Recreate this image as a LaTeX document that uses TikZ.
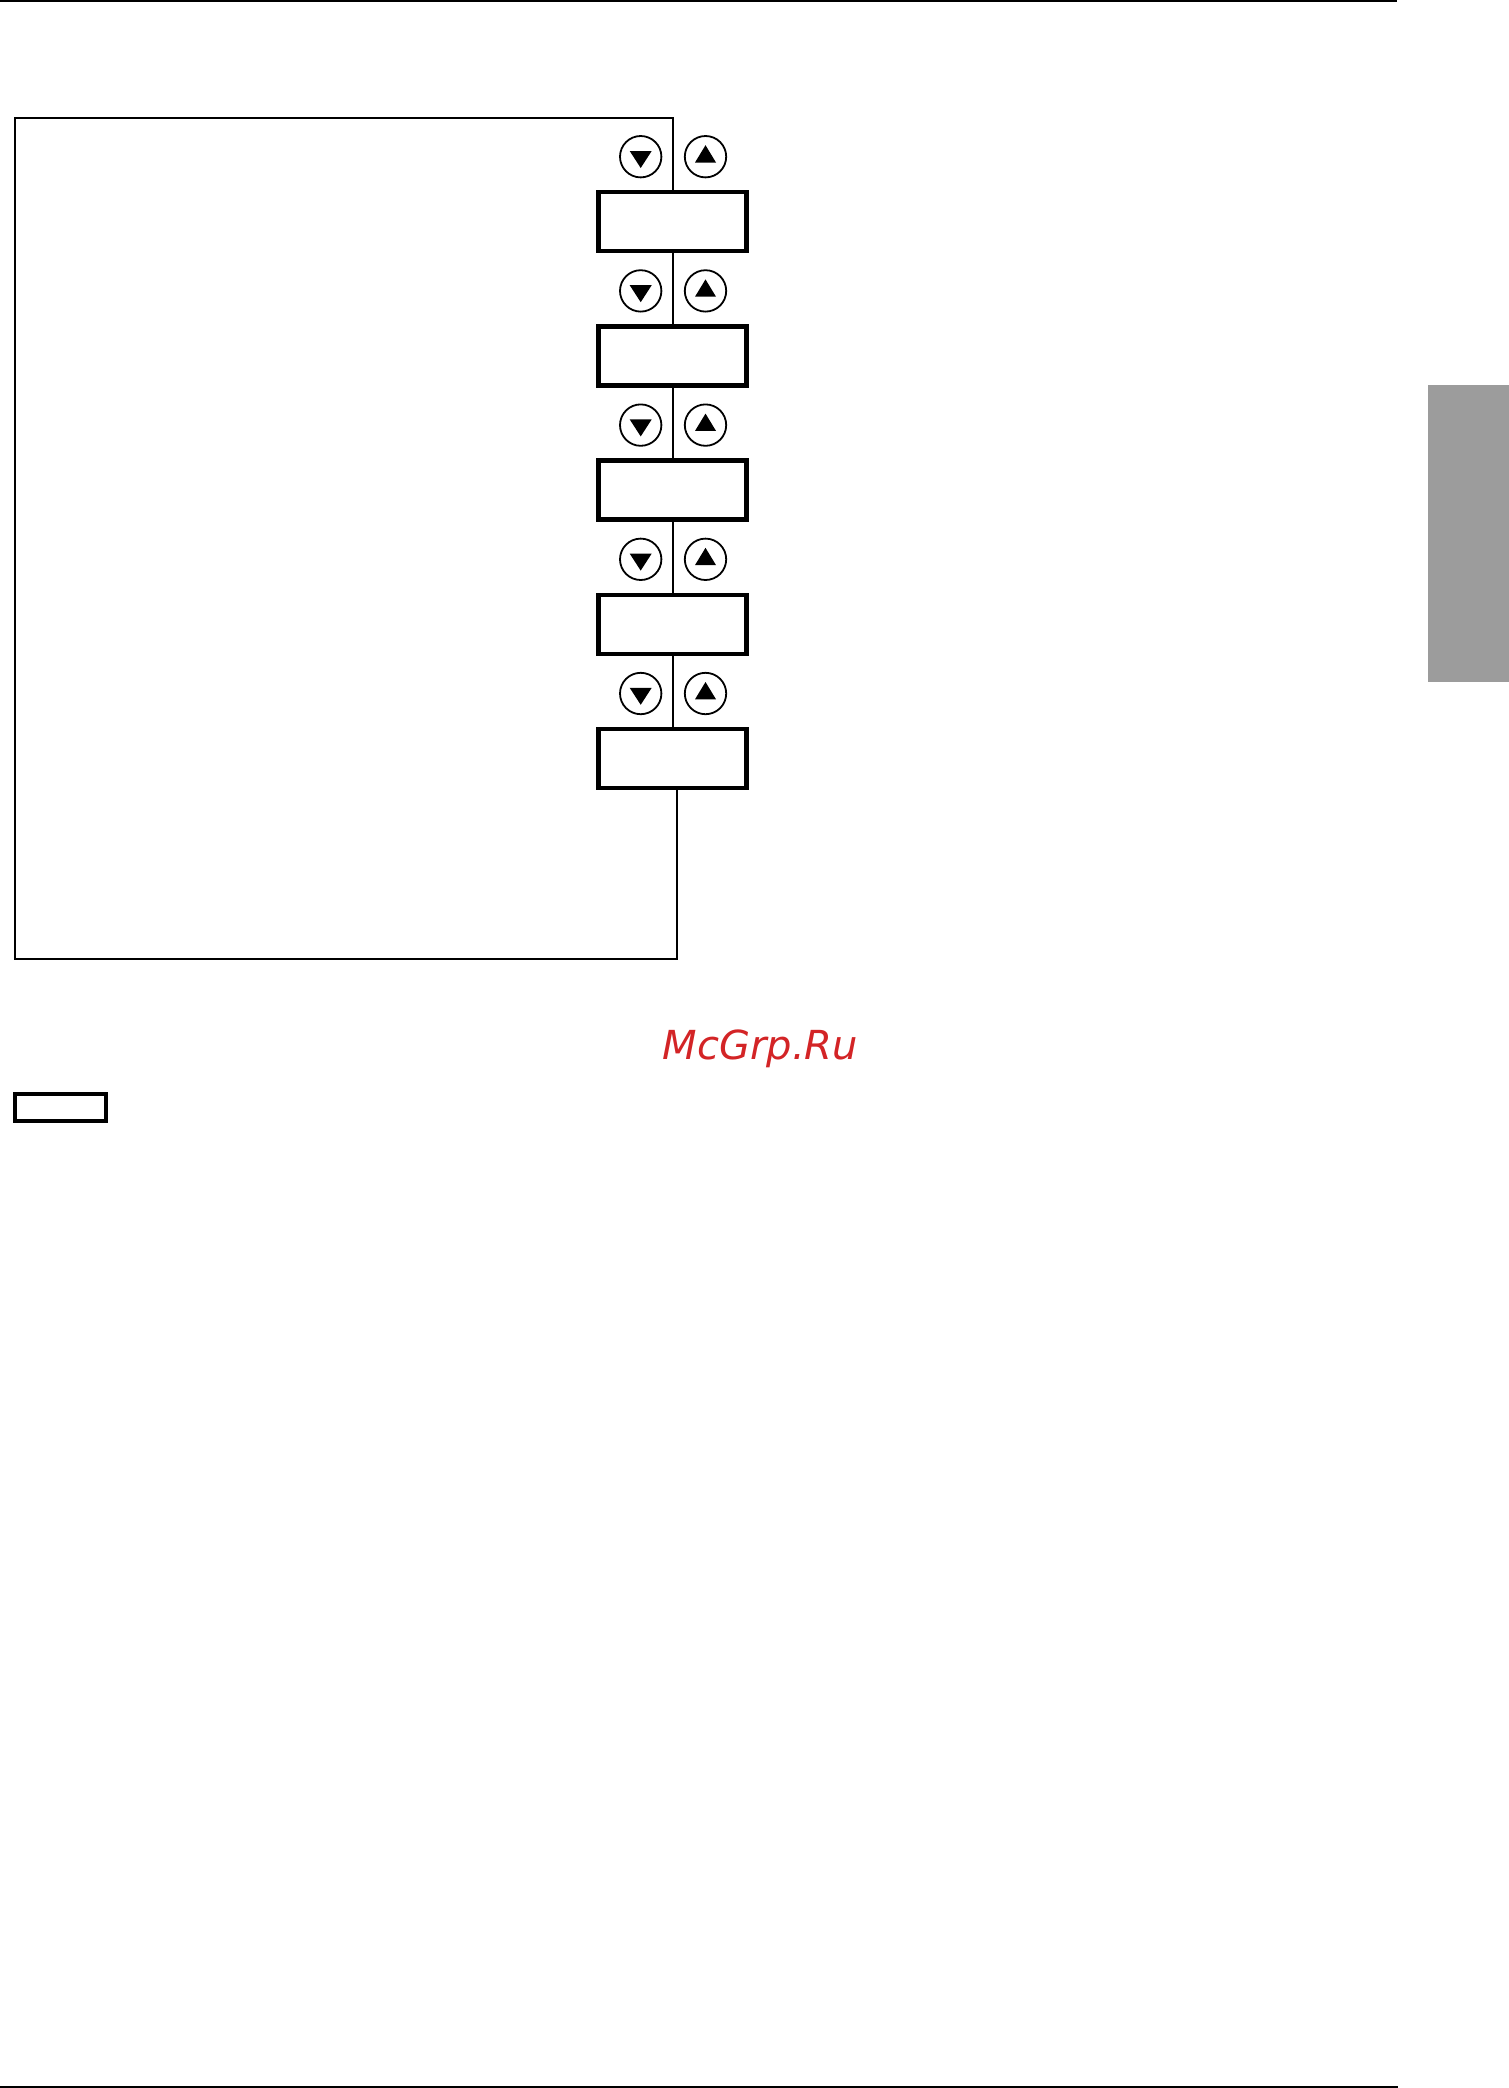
\documentclass[tikz,border=0pt]{standalone}
\usepackage{fontspec}
\newfontfamily\wmfont{DejaVu Sans}
\definecolor{wmred}{RGB}{211,36,38}
\definecolor{tabgray}{RGB}{156,156,156}
\begin{document}
\begin{tikzpicture}[x=1pt,y=-1pt,
  stepbox/.style={draw, line width=4.5pt, minimum width=147.6pt, minimum height=59pt, inner sep=0pt, fill=white},
  keycirc/.style={draw, circle, line width=1.8pt, minimum size=41.4pt, inner sep=0pt},
  conn/.style={line width=1.8pt}]
\useasboundingbox (0,0) rectangle (1509,2088);
% header/footer rules
\fill (0,0) rectangle (1397,2);
\fill (0,2086) rectangle (1398,2088);
% gray tab
\fill[tabgray] (1428,385) rectangle (1509,682);
% boxes
\foreach \i/\y in {1/221.7,2/355.9,3/490.1,4/624.3,5/758.5}{
  \node[stepbox] (b\i) at (672.5,\y) {};
}
% key circles
\foreach \i/\y in {1/156.7,2/290.9,3/425.1,4/559.3,5/693.5}{
  \node[keycirc] (d\i) at (640.7,\y) {};
  \node[keycirc] (u\i) at (705.5,\y) {};
  \fill ([xshift=-11pt,yshift=5.7pt]d\i.center) -- ([xshift=11pt,yshift=5.7pt]d\i.center) -- ([yshift=-11.3pt]d\i.center) -- cycle;
  \fill ([xshift=-10.5pt,yshift=-5.8pt]u\i.center) -- ([xshift=10.5pt,yshift=-5.8pt]u\i.center) -- ([yshift=11.5pt]u\i.center) -- cycle;
}
% frame and connectors
\coordinate (ftr) at (673.3,118.3);
\coordinate (ftl) at (14.6,118.3);
\coordinate (fbl) at (14.6,959.3);
\coordinate (fbr) at (676.7,959.3);
\draw[conn] (b1.north -| ftr) -- (ftr) -- (ftl) -- (fbl) -- (fbr) -- (fbr |- b5.south);
\draw[conn] (b1.south -| ftr) -- (b2.north -| ftr);
\draw[conn] (b2.south -| ftr) -- (b3.north -| ftr);
\draw[conn] (b3.south -| ftr) -- (b4.north -| ftr);
\draw[conn] (b4.south -| ftr) -- (b5.north -| ftr);
% small box
\node[draw, line width=4pt, minimum width=91pt, minimum height=27.6pt, inner sep=0pt] (sb) at (60.8,1107.5) {};
% watermark
\node[anchor=base, inner sep=0pt, text=wmred, font={\wmfont\itshape\fontsize{40}{40}\selectfont}] (wm) at (760.5,1059) {McGrp.Ru};
\end{tikzpicture}
\end{document}
